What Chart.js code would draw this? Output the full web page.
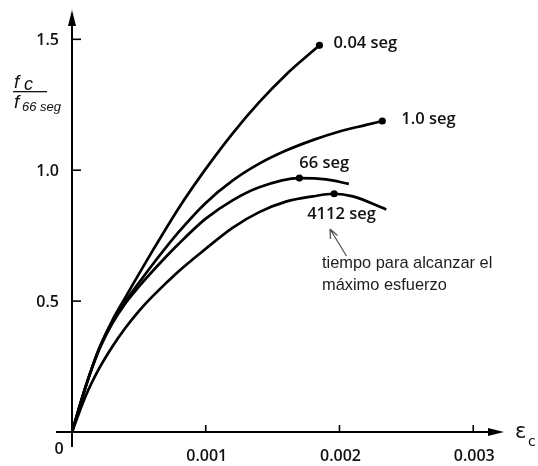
<!DOCTYPE html>
<html>
<head>
<meta charset="utf-8">
<script src="https://cdn.jsdelivr.net/npm/chart.js@4"></script>
<style>
  html, body { margin: 0; padding: 0; background: #fff; }
  #wrap { width: 538px; height: 466px; }
</style>
</head>
<body>
<div id="wrap"><canvas id="c" width="538" height="466"></canvas></div>
<script>
// Concrete stress-strain curves for different loading times (strain εc, stress fc / f66 seg)
const strain004 = [0, 0.0001, 0.0002, 0.0003, 0.0004, 0.0006, 0.0008, 0.0010, 0.0012, 0.0014, 0.0016, 0.0018, 0.00185];
const stress004 = [0, 0.17, 0.315, 0.425, 0.515, 0.69, 0.857, 1.005, 1.14, 1.26, 1.365, 1.455, 1.477];

const strain10 = [0, 0.0001, 0.0002, 0.0003, 0.0004, 0.0005, 0.0006, 0.0008, 0.0010, 0.0012, 0.0014, 0.0016, 0.0018, 0.0020, 0.0022, 0.00232];
const stress10 = [0, 0.17, 0.315, 0.42, 0.50, 0.57, 0.638, 0.765, 0.875, 0.96, 1.025, 1.075, 1.115, 1.148, 1.173, 1.188];

const strain66 = [0, 0.0001, 0.0002, 0.0003, 0.0004, 0.0005, 0.0006, 0.0008, 0.0010, 0.0012, 0.0014, 0.0017, 0.0019, 0.00207];
const stress66 = [0, 0.17, 0.31, 0.413, 0.492, 0.555, 0.613, 0.72, 0.815, 0.885, 0.935, 0.97, 0.965, 0.948];

const strain4112 = [0, 0.0001, 0.0002, 0.0003, 0.0004, 0.0005, 0.0006, 0.0008, 0.0010, 0.0012, 0.0014, 0.0016, 0.0018, 0.00196, 0.0021, 0.00235];
const stress4112 = [0, 0.135, 0.24, 0.325, 0.398, 0.462, 0.517, 0.615, 0.70, 0.78, 0.84, 0.88, 0.90, 0.91, 0.90, 0.85];

const seriesNames = ['0.04 seg', '1.0 seg', '66 seg', '4112 seg'];
// index of the point where each curve reaches its maximum stress (marked with a dot)
const peakIndex = [12, 15, 11, 13];

const xTicks = [0.001, 0.002, 0.003];
const xTickLabels = ['0.001', '0.002', '0.003'];
const yTicks = [0.5, 1.0, 1.5];
const yTickLabels = ['0.5', '1.0', '1.5'];

const noteLines = ['tiempo para alcanzar el', 'máximo esfuerzo'];

// label offsets (px) from each curve's peak dot
const labelOffsets = [[14, -2], [19, -2], [0, -15], [-27, 21]];

const pairs = (xs, ys) => xs.map((x, i) => ({ x: x, y: ys[i] }));
const curves = [
  pairs(strain004, stress004),
  pairs(strain10, stress10),
  pairs(strain66, stress66),
  pairs(strain4112, stress4112)
];

const tickFont = '600 16px "Open Sans", sans-serif';

const axesPlugin = {
  id: 'axesPlugin',
  beforeDatasetsDraw(chart) {
    const ctx = chart.ctx;
    const xs = chart.scales.x, ys = chart.scales.y;
    const X0 = xs.getPixelForValue(0), Y0 = ys.getPixelForValue(0);
    const xEnd = xs.right, yTop = ys.top;
    ctx.save();
    ctx.strokeStyle = '#000';
    ctx.fillStyle = '#000';
    ctx.lineWidth = 2;
    // x axis
    ctx.beginPath();
    ctx.moveTo(X0 - 16, Y0);
    ctx.lineTo(xEnd - 10, Y0);
    ctx.stroke();
    ctx.beginPath();
    ctx.moveTo(xEnd, Y0);
    ctx.lineTo(xEnd - 16, Y0 - 4);
    ctx.lineTo(xEnd - 16, Y0 + 4);
    ctx.closePath();
    ctx.fill();
    // y axis
    ctx.beginPath();
    ctx.moveTo(X0, Y0 + 15);
    ctx.lineTo(X0, yTop + 10);
    ctx.stroke();
    ctx.beginPath();
    ctx.moveTo(X0, yTop);
    ctx.lineTo(X0 - 4, yTop + 16);
    ctx.lineTo(X0 + 4, yTop + 16);
    ctx.closePath();
    ctx.fill();
    // tick marks
    ctx.lineWidth = 1.6;
    yTicks.forEach(v => {
      const py = ys.getPixelForValue(v);
      ctx.beginPath();
      ctx.moveTo(X0, py);
      ctx.lineTo(X0 + 9, py);
      ctx.stroke();
    });
    xTicks.forEach(v => {
      const px = xs.getPixelForValue(v);
      ctx.beginPath();
      ctx.moveTo(px, Y0);
      ctx.lineTo(px, Y0 - 7);
      ctx.stroke();
    });
    ctx.restore();
  },
  afterDraw(chart) {
    const ctx = chart.ctx;
    const xs = chart.scales.x, ys = chart.scales.y;
    const X0 = xs.getPixelForValue(0), Y0 = ys.getPixelForValue(0);
    const xEnd = xs.right;
    ctx.save();
    ctx.fillStyle = '#111';
    ctx.font = tickFont;
    // y tick labels
    ctx.textAlign = 'right';
    ctx.textBaseline = 'middle';
    yTicks.forEach((v, i) => {
      ctx.fillText(yTickLabels[i], X0 - 13, ys.getPixelForValue(v) + 1);
    });
    // origin label
    ctx.textAlign = 'center';
    ctx.fillText('0', X0 - 13, Y0 + 17);
    // x tick labels
    xTicks.forEach((v, i) => {
      ctx.fillText(xTickLabels[i], xs.getPixelForValue(v) + 1, Y0 + 24);
    });
    // x axis title εc
    ctx.textAlign = 'left';
    ctx.font = '21px "DejaVu Sans", sans-serif';
    ctx.fillText('ε', xEnd + 11, Y0 + 1);
    ctx.font = '14px "DejaVu Sans", sans-serif';
    ctx.fillText('c', xEnd + 24, Y0 + 10);
    // y axis title fc / f66 seg
    ctx.textBaseline = 'alphabetic';
    ctx.font = 'italic 19px "Liberation Sans", sans-serif';
    ctx.fillText('f', 14, 88);
    ctx.font = 'italic 18px "Liberation Sans", sans-serif';
    ctx.fillText('c', 24, 90);
    ctx.fillRect(13, 91, 34, 1.3);
    ctx.font = 'italic 19px "Liberation Sans", sans-serif';
    ctx.fillText('f', 14, 108);
    ctx.font = 'italic 13px "Liberation Sans", sans-serif';
    ctx.fillText('66 seg', 22, 111);
    // curve labels next to peak dots
    ctx.font = '600 16.5px "Open Sans", sans-serif';
    ctx.textBaseline = 'middle';
    const metas = chart.getSortedVisibleDatasetMetas();
    metas.forEach((meta, i) => {
      const pt = meta.data[peakIndex[i]];
      ctx.fillText(seriesNames[i], pt.x + labelOffsets[i][0], pt.y + labelOffsets[i][1]);
    });
    // note with arrow pointing to the maximum
    ctx.strokeStyle = '#555';
    ctx.lineWidth = 1.3;
    ctx.beginPath();
    ctx.moveTo(346.5, 256);
    ctx.lineTo(330, 229);
    ctx.moveTo(330, 229);
    ctx.lineTo(330.5, 239);
    ctx.moveTo(330, 229);
    ctx.lineTo(337.5, 235.5);
    ctx.stroke();
    ctx.fillStyle = '#1c1c1c';
    ctx.font = '16.4px "Liberation Sans", Arial, sans-serif';
    ctx.textBaseline = 'alphabetic';
    ctx.fillText(noteLines[0], 322, 268);
    ctx.fillText(noteLines[1], 322, 290);
    ctx.restore();
  }
};

new Chart(document.getElementById('c'), {
  type: 'line',
  data: {
    datasets: curves.map((pts, i) => ({
      label: seriesNames[i],
      data: pts,
      borderColor: '#000',
      borderWidth: 2.7,
      backgroundColor: '#000',
      pointBackgroundColor: '#000',
      pointBorderWidth: 0,
      pointRadius: ctx => (ctx.dataIndex === peakIndex[i] ? 3.6 : 0),
      cubicInterpolationMode: 'monotone',
      fill: false,
      clip: false
    }))
  },
  options: {
    responsive: false,
    animation: false,
    events: [],
    layout: { padding: { left: 72, right: 34, top: 10, bottom: 34 } },
    plugins: { legend: { display: false }, tooltip: { enabled: false } },
    scales: {
      x: { type: 'linear', min: 0, max: 0.00323, display: false },
      y: { type: 'linear', min: 0, max: 1.612, display: false }
    }
  },
  plugins: [axesPlugin]
});
</script>
</body>
</html>
